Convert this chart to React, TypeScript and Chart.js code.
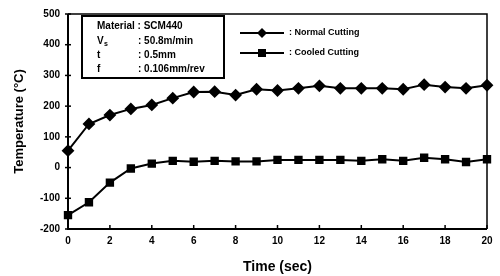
import React, { useEffect, useRef } from "react";
import { Chart, registerables } from "chart.js";

Chart.register(...registerables);

const timeSec = [0, 1, 2, 3, 4, 5, 6, 7, 8, 9, 10, 11, 12, 13, 14, 15, 16, 17, 18, 19, 20];
const normalCutting = [55, 142, 171, 191, 204, 226, 246, 247, 236, 255, 251, 258, 266, 258, 258, 258, 255, 270, 262, 258, 268];
const cooledCutting = [-155, -113, -49, -3, 13, 22, 19, 22, 20, 20, 25, 25, 25, 25, 22, 27, 22, 32, 27, 18, 27];
const seriesNames = [": Normal Cutting", ": Cooled Cutting"];
const paramLabels = ["Material", "V", "t", "f"];
const paramValues = [": SCM440", ": 50.8m/min", ": 0.5mm", ": 0.106mm/rev"];

const FONT = "'Liberation Sans', Arial, sans-serif";

export default function App() {
  const ref = useRef<HTMLCanvasElement>(null);

  useEffect(() => {
    document.body.style.margin = "0";
    const canvas = ref.current!;
    const decor = {
      id: "decor",
      afterDraw(chart: any) {
        const ctx = chart.ctx;
        const a = chart.chartArea;
        const xs = chart.scales.x;
        const ys = chart.scales.y;
        ctx.save();
        ctx.strokeStyle = "#000";
        // frame
        ctx.lineWidth = 1.5;
        ctx.beginPath();
        ctx.moveTo(a.left, a.top);
        ctx.lineTo(a.right, a.top);
        ctx.lineTo(a.right, a.bottom);
        ctx.stroke();
        ctx.lineWidth = 2;
        ctx.beginPath();
        ctx.moveTo(a.left, a.top);
        ctx.lineTo(a.left, a.bottom);
        ctx.lineTo(a.right, a.bottom);
        ctx.stroke();
        // tick marks
        ctx.lineWidth = 1.5;
        ys.ticks.forEach((t: any) => {
          const py = ys.getPixelForValue(t.value);
          ctx.beginPath();
          ctx.moveTo(a.left - 3, py);
          ctx.lineTo(a.left + 3, py);
          ctx.stroke();
        });
        xs.ticks.forEach((t: any) => {
          const px = xs.getPixelForValue(t.value);
          ctx.beginPath();
          ctx.moveTo(px, a.bottom);
          ctx.lineTo(px, a.bottom - 4);
          ctx.stroke();
        });
        // parameter box
        const bx = a.left + 14, by = a.top + 2, bw = 142, bh = 62;
        ctx.lineWidth = 2;
        ctx.strokeRect(bx, by, bw, bh);
        ctx.fillStyle = "#000";
        ctx.font = `bold 10px ${FONT}`;
        ctx.textBaseline = "middle";
        ctx.textAlign = "left";
        const rows = [by + 10, by + 25, by + 39, by + 53];
        paramLabels.forEach((lab, i) => {
          if (i === 0) {
            ctx.fillText(lab + " " + paramValues[i], bx + 15, rows[i]);
          } else {
            ctx.fillText(lab, bx + 15, rows[i]);
            if (i === 1) {
              ctx.font = `bold 7px ${FONT}`;
              ctx.fillText("s", bx + 22, rows[i] + 3);
              ctx.font = `bold 10px ${FONT}`;
            }
            ctx.fillText(paramValues[i], bx + 56, rows[i]);
          }
        });
        // legend
        const lx = a.left + 172;
        const lys = [a.top + 19, a.top + 39];
        chart.data.datasets.forEach((ds: any, i: number) => {
          const y = lys[i];
          ctx.lineWidth = 2;
          ctx.beginPath();
          ctx.moveTo(lx, y);
          ctx.lineTo(lx + 44, y);
          ctx.stroke();
          const cx = lx + 22;
          ctx.beginPath();
          if (ds.pointStyle === "rectRot") {
            const r = 5;
            ctx.moveTo(cx, y - r);
            ctx.lineTo(cx + r, y);
            ctx.lineTo(cx, y + r);
            ctx.lineTo(cx - r, y);
            ctx.closePath();
          } else {
            ctx.rect(cx - 4, y - 4, 8, 8);
          }
          ctx.fill();
          ctx.font = `bold 9px ${FONT}`;
          ctx.fillText(seriesNames[i], lx + 49, y);
        });
        ctx.restore();
      },
    };

    const chart = new Chart(canvas, {
      type: "line",
      data: {
        labels: timeSec,
        datasets: [
          {
            label: seriesNames[0],
            data: timeSec.map((t, i) => ({ x: t, y: normalCutting[i] })),
            borderColor: "#000",
            backgroundColor: "#000",
            borderWidth: 2,
            pointStyle: "rectRot",
            pointRadius: 5,
            pointBackgroundColor: "#000",
            pointBorderColor: "#000",
            tension: 0,
          },
          {
            label: seriesNames[1],
            data: timeSec.map((t, i) => ({ x: t, y: cooledCutting[i] })),
            borderColor: "#000",
            backgroundColor: "#000",
            borderWidth: 2,
            pointStyle: "rect",
            pointRadius: 4.5,
            pointBackgroundColor: "#000",
            pointBorderColor: "#000",
            tension: 0,
          },
        ],
      },
      options: {
        animation: false,
        responsive: false,
        clip: false as any,
        layout: { padding: { top: 13, right: 13, left: 12, bottom: 0 } },
        plugins: { legend: { display: false }, tooltip: { enabled: false } },
        scales: {
          x: {
            type: "linear",
            min: 0,
            max: 20,
            ticks: {
              stepSize: 2,
              color: "#000",
              font: { family: FONT, size: 10, weight: "bold" },
              padding: 6,
            },
            grid: { display: false, drawTicks: false },
            border: { display: false },
            title: {
              display: true,
              text: "Time (sec)",
              color: "#000",
              font: { family: FONT, size: 14, weight: "bold" },
              padding: { top: 3, bottom: 0 },
            },
            afterFit(s: any) {
              s.height = 47;
            },
          },
          y: {
            min: -200,
            max: 500,
            ticks: {
              stepSize: 100,
              color: "#000",
              font: { family: FONT, size: 10, weight: "bold" },
              padding: 8,
            },
            grid: { display: false, drawTicks: false },
            border: { display: false },
            title: {
              display: true,
              text: "Temperature (°C)",
              color: "#000",
              font: { family: FONT, size: 13, weight: "bold" },
              padding: { top: 0, bottom: 4 },
            },
            afterFit(s: any) {
              s.width = 56;
            },
          },
        },
      },
      plugins: [decor],
    });
    return () => chart.destroy();
  }, []);

  return <canvas ref={ref} width={500} height={276} style={{ display: "block" }} />;
}
